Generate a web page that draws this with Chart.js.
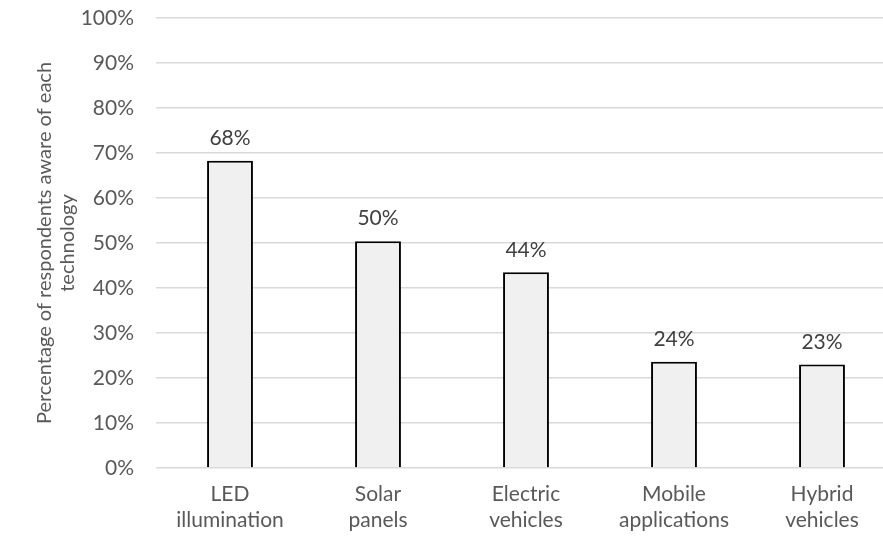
<!DOCTYPE html>
<html lang="en">
<head>
<meta charset="UTF-8" />
<title>Technology awareness</title>
<style>
  html, body { margin: 0; padding: 0; overflow: hidden; background: #fff; }
  #wrap { width: 896px; height: 541px; }
</style>
</head>
<body>
<div id="wrap"><canvas id="chart"></canvas></div>

<script src="https://cdn.jsdelivr.net/npm/chart.js"></script>
<script>
  // chart data
  const categories = [["LED", "illumination"], ["Solar", "panels"], ["Electric", "vehicles"], ["Mobile", "applications"], ["Hybrid", "vehicles"]];
  const awareness = [68.3, 50.4, 43.5, 23.6, 23.0];
  const yTicks = [0, 10, 20, 30, 40, 50, 60, 70, 80, 90, 100];
  const yTitle = ["Percentage of respondents aware of each", "technology"];

  const fontFamily = "Lato, 'Open Sans', sans-serif";
  const fontSize = 21;

  // draws the value above each bar
  const valueLabels = {
    id: "valueLabels",
    afterDatasetsDraw(chart) {
      const ctx = chart.ctx;
      const meta = chart.getDatasetMeta(0);
      ctx.save();
      ctx.font = fontSize + "px " + fontFamily;
      ctx.fillStyle = "#404040";
      ctx.textAlign = "center";
      ctx.textBaseline = "bottom";
      meta.data.forEach((bar, i) => {
        ctx.fillText(Math.round(awareness[i]) + "%", bar.x, bar.y - 12);
      });
      ctx.restore();
    }
  };

  new Chart(document.getElementById("chart"), {
    type: "bar",
    data: {
      labels: categories,
      datasets: [{
        data: awareness,
        backgroundColor: "#f0f0f0",
        borderColor: "#000000",
        borderWidth: { top: 2, left: 2, right: 2, bottom: 0 },
        borderSkipped: false,
        barPercentage: 0.31,
        categoryPercentage: 1
      }]
    },
    options: {
      responsive: true,
      maintainAspectRatio: false,
      animation: false,
      layout: { padding: { top: 18, left: 33, right: 0, bottom: 3 } },
      plugins: {
        legend: { display: false },
        tooltip: { enabled: false }
      },
      scales: {
        x: {
          grid: { display: false },
          border: { display: false },
          ticks: {
            color: "#595959",
            font: { size: fontSize, family: fontFamily, lineHeight: 1.24 },
            padding: 5,
            maxRotation: 0
          },
          afterFit: axis => { axis.height = 70; }
        },
        y: {
          min: 0,
          max: 100,
          afterBuildTicks: axis => { axis.ticks = yTicks.map(v => ({ value: v })); },
          afterFit: axis => {
            axis.width = 123;
            axis.paddingTop = 0;
            axis.paddingBottom = 0;
          },
          grid: { color: "#d9d9d9", lineWidth: 1.5, drawTicks: false },
          border: { display: false },
          ticks: {
            color: "#595959",
            font: { size: fontSize, family: fontFamily },
            padding: 22,
            callback: v => v + "%"
          },
          title: {
            display: true,
            text: yTitle,
            color: "#595959",
            font: { size: 20, family: fontFamily, lineHeight: 1.15 },
            padding: 0
          }
        }
      }
    },
    plugins: [valueLabels]
  });
</script>
</body>
</html>
